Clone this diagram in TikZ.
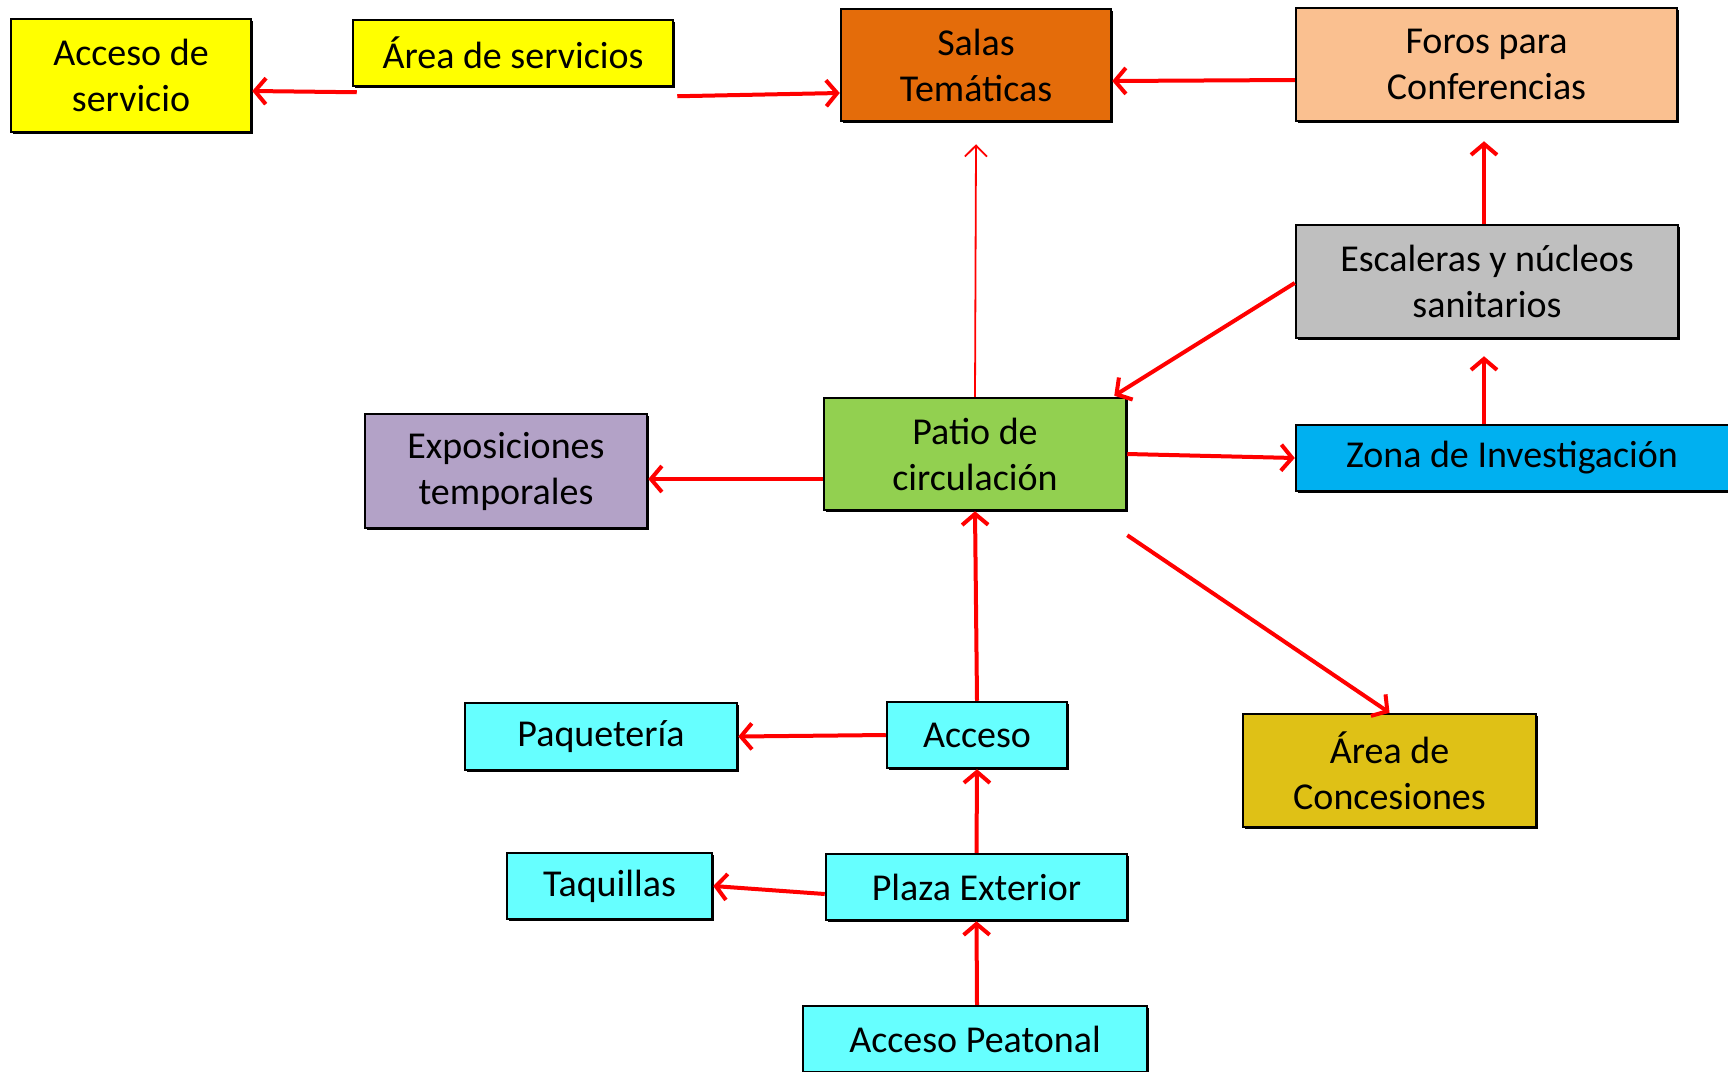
\documentclass[tikz,border=0pt]{standalone}
\usepackage{fontspec}
\setmainfont{Carlito}
\usetikzlibrary{arrows.meta,shadows,calc}
\definecolor{cYel}{HTML}{FFFF00}
\definecolor{cOra}{HTML}{E46C0A}
\definecolor{cPea}{HTML}{FAC090}
\definecolor{cGra}{HTML}{BFBFBF}
\definecolor{cGre}{HTML}{92D050}
\definecolor{cPur}{HTML}{B3A2C7}
\definecolor{cBlu}{HTML}{00B0F0}
\definecolor{cCon}{HTML}{DFC116}
\definecolor{cCya}{HTML}{66FFFF}
\definecolor{cRed}{HTML}{FF0000}
\tikzset{
  box/.style={draw=black, line width=2.5pt, inner sep=0pt, align=center,
    font=\fontsize{38}{46}\selectfont, text=black,
    drop shadow={shadow xshift=1.5pt, shadow yshift=-1.5pt, fill=black, opacity=1}},
  arr/.style={draw=cRed, line width=4pt, -{Straight Barb[length=11pt,width=26pt]}},
  thinarr/.style={draw=cRed, line width=1.8pt, -{Straight Barb[length=11pt,width=22pt]}}
}
\begin{document}
\begin{tikzpicture}[x=1pt,y=-1pt]
\useasboundingbox[fill=white] (0,0) rectangle (1728,1071);
\node[box, fill=cYel, minimum width=240, minimum height=113] (accs) at (131,75.5) {Acceso de\\servicio};
\node[box, fill=cYel, minimum width=320, minimum height=66] (asrv) at (513,53) {Área de servicios};
\node[box, fill=cOra, minimum width=270, minimum height=112] (salas) at (976,65) {Salas\\Temáticas};
\node[box, fill=cPea, minimum width=381, minimum height=113] (foros) at (1486.5,64.5) {Foros para\\Conferencias};
\node[box, fill=cGra, minimum width=382, minimum height=113] (esc) at (1487,281.5) {Escaleras y núcleos\\sanitarios};
\node[box, fill=cGre, minimum width=302, minimum height=112] (patio) at (975,454) {Patio de\\circulación};
\node[box, fill=cPur, minimum width=282, minimum height=114] (expo) at (506,471) {Exposiciones\\temporales};
\node[box, fill=cBlu, minimum width=444, minimum height=66] (zona) at (1518,458) {Zona de Investigación\hspace*{12pt}};
\node[box, fill=cCon, minimum width=293, minimum height=113] (conc) at (1389.5,770.5) {Área de\\Concesiones};
\node[box, fill=cCya, minimum width=272, minimum height=67] (paq) at (601,736.5) {Paquetería};
\node[box, fill=cCya, minimum width=180, minimum height=66] (acc) at (977,735) {Acceso};
\node[box, fill=cCya, minimum width=205, minimum height=66] (taq) at (609.5,886) {Taquillas};
\node[box, fill=cCya, minimum width=301, minimum height=66] (plaza) at (976.5,887) {Plaza Exterior};
\node[box, fill=cCya, minimum width=344, minimum height=66] (peat) at (975,1039) {Acceso Peatonal};

\draw[arr] ([shift={(5,5)}]asrv.south west) -- ([shift={(0,15.5)}]accs.east);
\draw[arr] ([shift={(3,9)}]asrv.south east) -- ([shift={(0,28)}]salas.west);
\draw[arr] ([shift={(0,15.5)}]foros.west) -- ([shift={(0,16)}]salas.east);
\draw[thinarr] (patio.north) -- ([shift={(0,22)}]salas.south);
\draw[arr] ([shift={(0,1.5)}]esc.west) -- ([shift={(-13,-1)}]patio.north east);
\draw[arr] ([shift={(-34,0)}]zona.north) -- ([shift={(-3,17)}]esc.south);
\draw[arr] ([shift={(-3,0)}]esc.north) -- ([shift={(-2.5,19)}]foros.south);
\draw[arr] (patio.east) -- (zona.west);
\draw[arr] ([shift={(0,24)}]patio.south east) -- (conc.north);
\draw[arr] ([shift={(0,25)}]patio.west) -- ([shift={(0,8)}]expo.east);
\draw[arr] (acc.north) -- (patio.south);
\draw[arr] (acc.west) -- (paq.east);
\draw[arr] (plaza.north) -- (acc.south);
\draw[arr] ([shift={(0,7)}]plaza.west) -- (taq.east);
\draw[arr] ([shift={(2,0)}]peat.north) -- (plaza.south);
\end{tikzpicture}
\end{document}
